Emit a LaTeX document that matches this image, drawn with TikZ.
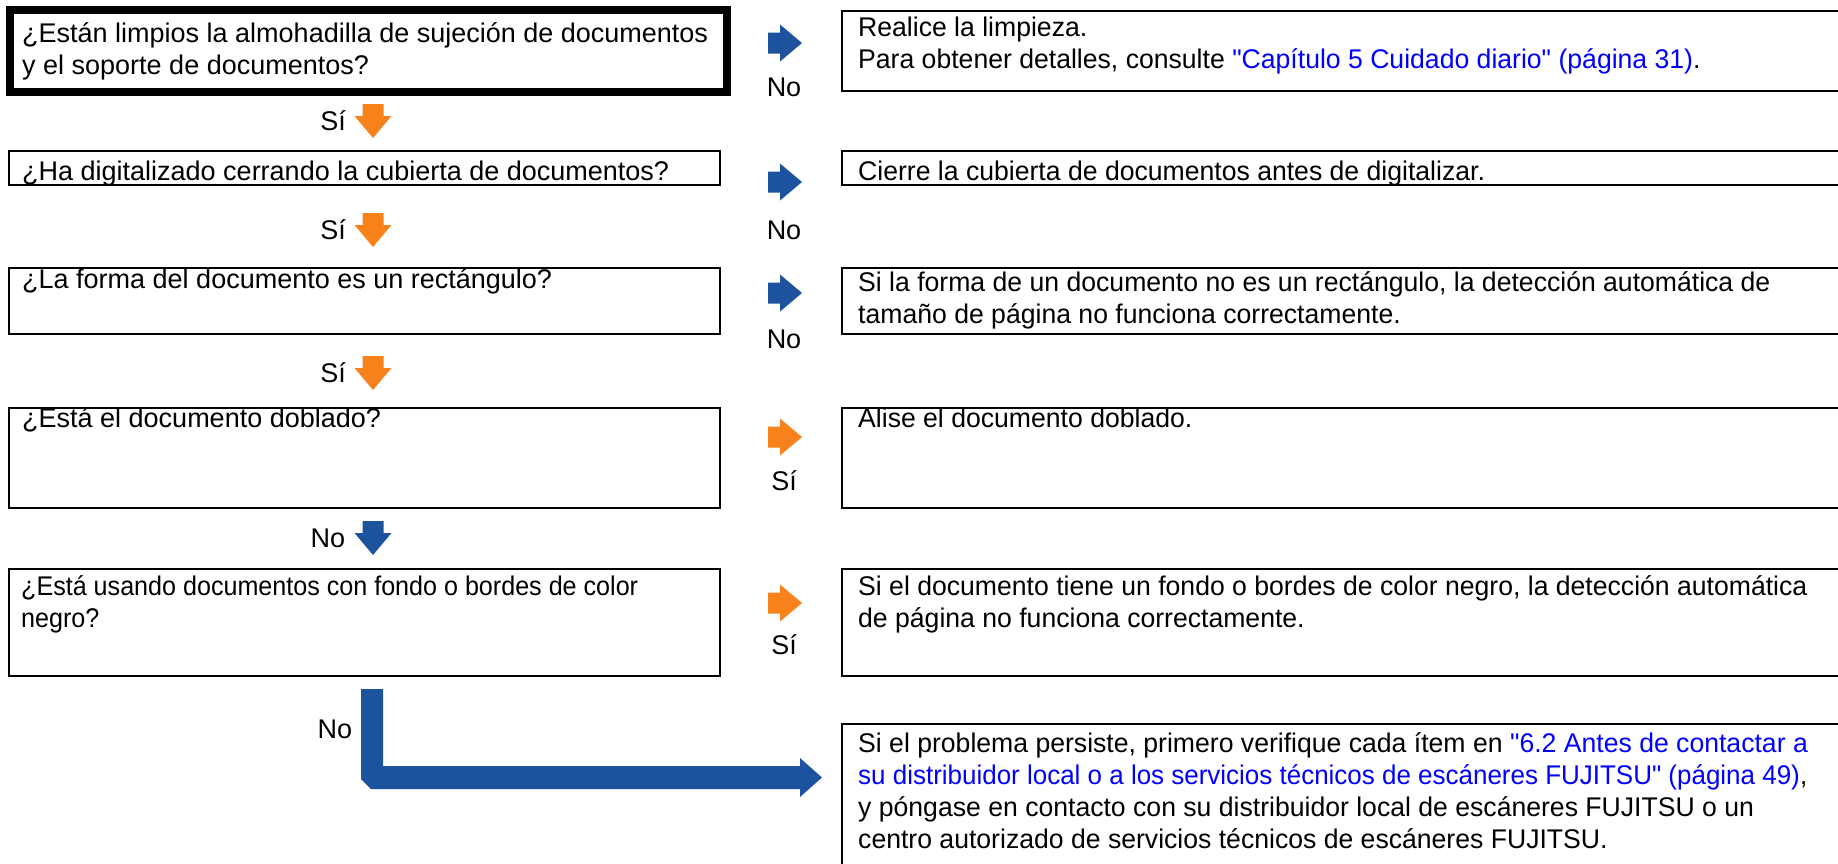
\documentclass[tikz,border=0pt]{standalone}
\usepackage{fontspec}
\setmainfont{Liberation Sans}[Ligatures=TeXOff]
\definecolor{arrblue}{RGB}{28,82,158}
\definecolor{arrorange}{RGB}{247,130,27}
\definecolor{linkblue}{RGB}{0,0,255}
\newcommand{\lnk}[1]{\textcolor{linkblue}{#1}}
\newcommand{\rl}[1]{\strut\scalebox{0.985}[1]{#1}}
\tikzset{
  x=1pt, y=-1pt,
  qbox/.style={draw=black, line width=2.3pt, anchor=north west, inner sep=0pt, outer sep=0pt},
  txt/.style={anchor=north west, inner sep=0pt, align=left,
    font=\fontsize{27}{32}\selectfont},
  lbl/.style={inner sep=0pt, font=\fontsize{27}{32}\selectfont},
  pics/barrow/.style={code={
    \fill[#1] (-17,-10.5) -- (-5,-10.5) -- (-5,-18.5) -- (17,0) -- (-5,18.5) -- (-5,10.5) -- (-17,10.5) -- cycle;}}
}
\begin{document}
\begin{tikzpicture}
\useasboundingbox (0,0) rectangle (1838,863);
\clip (0,0) rectangle (1838,863);
% left question boxes
\node[qbox, line width=8pt, minimum width=717pt, minimum height=82pt] (q1) at (10,10) {};
\node[qbox, minimum width=711pt, minimum height=34pt] (q2) at (9,151) {};
\node[qbox, minimum width=711pt, minimum height=66pt] (q3) at (9,268) {};
\node[qbox, minimum width=711pt, minimum height=100pt] (q4) at (9,408) {};
\node[qbox, minimum width=711pt, minimum height=107pt] (q5) at (9,569) {};
% right answer boxes
\node[qbox, minimum width=1030pt, minimum height=80pt] (a1) at (842,11) {};
\node[qbox, minimum width=1030pt, minimum height=34pt] (a2) at (842,151) {};
\node[qbox, minimum width=1030pt, minimum height=66pt] (a3) at (842,268) {};
\node[qbox, minimum width=1030pt, minimum height=100pt] (a4) at (842,408) {};
\node[qbox, minimum width=1030pt, minimum height=107pt] (a5) at (842,569) {};
\node[qbox, minimum width=1030pt, minimum height=170pt] (a6) at (842,724) {};
% texts
\node[txt] (q1t) at (22,19.6) {\strut ¿Están limpios la almohadilla de sujeción de documentos\\\strut y el soporte de documentos?};
\node[txt] (q2t) at (22,157.6) {\strut ¿Ha digitalizado cerrando la cubierta de documentos?};
\node[txt] (q3t) at (22,265.6) {\strut ¿La forma del documento es un rectángulo?};
\node[txt] (q4t) at (22,404.6) {\strut ¿Está el documento doblado?};
\node[txt] (q5t) at (21,572.6) {\strut\scalebox{0.93}[1]{¿Está usando documentos con fondo o bordes de color}\\\strut\scalebox{0.93}[1]{negro?}};
\node[txt] (a1t) at (858,13.6) {\rl{Realice la limpieza.}\\\rl{Para obtener detalles, consulte \lnk{"Capítulo 5 Cuidado diario" (página 31)}.}};
\node[txt] (a2t) at (858,157.6) {\rl{Cierre la cubierta de documentos antes de digitalizar.}};
\node[txt] (a3t) at (858,268.6) {\rl{Si la forma de un documento no es un rectángulo, la detección automática de}\\\rl{tamaño de página no funciona correctamente.}};
\node[txt] (a4t) at (858,404.6) {\rl{Alise el documento doblado.}};
\node[txt] (a5t) at (858,572.6) {\rl{Si el documento tiene un fondo o bordes de color negro, la detección automática}\\\rl{de página no funciona correctamente.}};
\node[txt] (a6t) at (858,729.6) {\rl{Si el problema persiste, primero verifique cada ítem en \lnk{"6.2 Antes de contactar a}}\\\strut\scalebox{0.962}[1]{\lnk{su distribuidor local o a los servicios técnicos de escáneres FUJITSU" (página 49)},}\\\rl{y póngase en contacto con su distribuidor local de escáneres FUJITSU o un}\\\rl{centro autorizado de servicios técnicos de escáneres FUJITSU.}};
% right block arrows
\pic at (785,43) {barrow=arrblue};
\pic at (785,182) {barrow=arrblue};
\pic at (785,293) {barrow=arrblue};
\pic at (785,437) {barrow=arrorange};
\pic at (785,603) {barrow=arrorange};
% down block arrows
\pic[rotate=-90] at (373,121) {barrow=arrorange};
\pic[rotate=-90] at (373,230) {barrow=arrorange};
\pic[rotate=-90] at (373,373) {barrow=arrorange};
\pic[rotate=-90] at (373,538) {barrow=arrblue};
% L arrow
\fill[arrblue] (361,689) -- (383,689) -- (383,766) -- (800,766) -- (800,758) -- (822,777.5) -- (800,797) -- (800,789) -- (371,789) -- (361,779) -- cycle;
% labels
\node[lbl] (n1) at (784,87) {No};
\node[lbl] (n2) at (784,230) {No};
\node[lbl] (n3) at (784,339) {No};
\node[lbl] (s4) at (784,481) {Sí};
\node[lbl] (s5) at (784,645) {Sí};
\node[lbl] (d1) at (333,121) {Sí};
\node[lbl] (d2) at (333,230) {Sí};
\node[lbl] (d3) at (333,373) {Sí};
\node[lbl] (d4) at (328,538) {No};
\node[lbl] (d5) at (335,729) {No};
\end{tikzpicture}
\end{document}
